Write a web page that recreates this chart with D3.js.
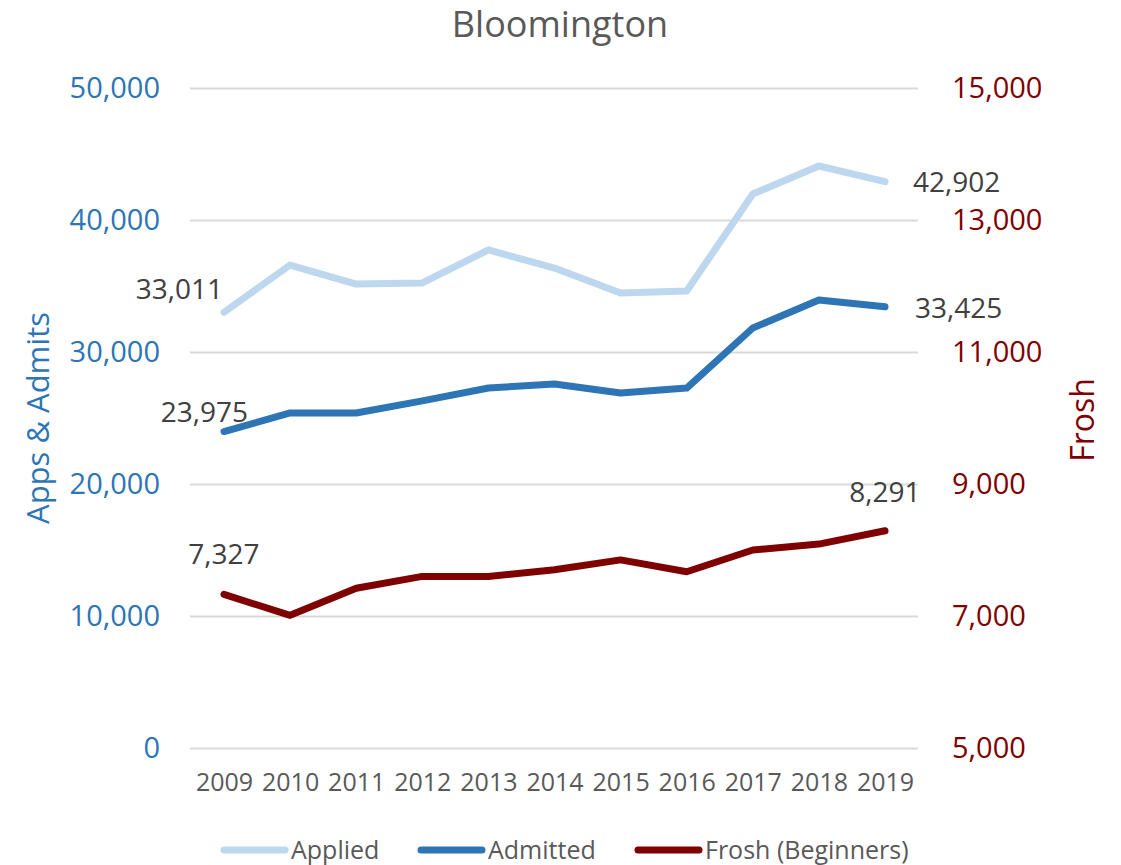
<!DOCTYPE html>
<html>
<head>
<meta charset="utf-8">
<script src="https://cdn.jsdelivr.net/npm/d3@7"></script>
<style>
  body { margin: 0; background: #fff; }
  svg { display: block; font-family: "Open Sans", "Noto Sans", sans-serif; }
</style>
</head>
<body>
<div id="chart"></div>
<script>
// values
const years = ["2009", "2010", "2011", "2012", "2013", "2014", "2015", "2016", "2017", "2018", "2019"];
const applied = [33011, 36590, 35150, 35230, 37730, 36360, 34470, 34620, 41970, 44090, 42902];
const admitted = [23975, 25380, 25380, 26300, 27270, 27580, 26890, 27270, 31820, 33940, 33425];
const frosh = [7327, 7010, 7420, 7600, 7600, 7700, 7850, 7670, 8000, 8090, 8291];
const leftTicks = [0, 10000, 20000, 30000, 40000, 50000];
const rightTicks = [5000, 7000, 9000, 11000, 13000, 15000];

const width = 1121, height = 865;
const blue = "#2E75B6", lightBlue = "#BDD7EE", darkRed = "#7F0000";
const fmt = d3.format(",");

const svg = d3.select("#chart")
    .append("svg")
    .attr("width", width)
    .attr("height", height);

const x = d3.scalePoint()
    .domain(years)
    .range([224, 885]);

const yLeft = d3.scaleLinear()
    .domain([0, 50000])
    .range([748, 88]);

const yRight = d3.scaleLinear()
    .domain([5000, 15000])
    .range([748, 88]);

// title
svg.append("text")
    .attr("x", 560)
    .attr("y", 37)
    .attr("text-anchor", "middle")
    .attr("font-size", 36)
    .attr("fill", "#595959")
    .text("Bloomington");

// left axis + gridlines
const leftAxis = svg.append("g")
    .attr("transform", "translate(190,0)")
    .call(d3.axisLeft(yLeft).tickValues(leftTicks).tickFormat(fmt).tickSize(-728).tickPadding(30));
leftAxis.select(".domain").remove();
leftAxis.selectAll(".tick line").attr("stroke", "#d9d9d9").attr("stroke-width", 2);
leftAxis.selectAll(".tick text")
    .attr("font-size", 29)
    .attr("font-family", "Open Sans")
    .attr("fill", blue);

// right axis, labels only
const rightAxis = svg.append("g")
    .attr("transform", "translate(918,0)")
    .call(d3.axisRight(yRight).tickValues(rightTicks).tickFormat(fmt).tickSize(0).tickPadding(34));
rightAxis.select(".domain").remove();
rightAxis.selectAll(".tick text")
    .attr("font-size", 29)
    .attr("font-family", "Open Sans")
    .attr("fill", darkRed);

// x axis
const xAxis = svg.append("g")
    .attr("transform", "translate(0,748)")
    .call(d3.axisBottom(x).tickSize(0).tickPadding(25));
xAxis.select(".domain").remove();
xAxis.selectAll(".tick text")
    .attr("font-size", 25)
    .attr("font-family", "Open Sans")
    .attr("fill", "#595959");

// axis titles
svg.append("text")
    .attr("transform", "translate(49,418) rotate(-90)")
    .attr("text-anchor", "middle")
    .attr("font-size", 31)
    .attr("fill", blue)
    .text("Apps & Admits");

svg.append("text")
    .attr("transform", "translate(1094,420) rotate(-90)")
    .attr("text-anchor", "middle")
    .attr("font-size", 32)
    .attr("fill", darkRed)
    .text("Frosh");

// lines
const series = [
    { name: "Applied", values: applied, scale: yLeft, color: lightBlue },
    { name: "Admitted", values: admitted, scale: yLeft, color: blue },
    { name: "Frosh (Beginners)", values: frosh, scale: yRight, color: darkRed }
];

series.forEach(s => {
    const line = d3.line()
        .x((d, i) => x(years[i]))
        .y(d => s.scale(d));
    svg.append("path")
        .datum(s.values)
        .attr("fill", "none")
        .attr("stroke", s.color)
        .attr("stroke-width", 7)
        .attr("stroke-linejoin", "round")
        .attr("stroke-linecap", "round")
        .attr("d", line);
});

// data labels at first and last points
const labels = [
    { s: 0, i: 0, dx: -1, dy: -13, anchor: "end" },
    { s: 0, i: 10, dx: 28, dy: 10, anchor: "start" },
    { s: 1, i: 0, dx: 24, dy: -10, anchor: "end" },
    { s: 1, i: 10, dx: 30, dy: 11, anchor: "start" },
    { s: 2, i: 0, dx: 0, dy: -30, anchor: "middle" },
    { s: 2, i: 10, dx: 0, dy: -29, anchor: "middle" }
];

svg.selectAll(".data-label")
    .data(labels)
    .join("text")
    .attr("class", "data-label")
    .attr("x", d => x(years[d.i]) + d.dx)
    .attr("y", d => series[d.s].scale(series[d.s].values[d.i]) + d.dy)
    .attr("text-anchor", d => d.anchor)
    .attr("font-size", 28)
    .attr("fill", "#404040")
    .text(d => fmt(series[d.s].values[d.i]));

// legend
const legendX = [221, 418, 635];
const legend = svg.selectAll(".legend")
    .data(series)
    .join("g")
    .attr("class", "legend")
    .attr("transform", (d, i) => `translate(${legendX[i]},850)`);

legend.append("line")
    .attr("x1", 3)
    .attr("x2", 64)
    .attr("stroke", d => d.color)
    .attr("stroke-width", 7)
    .attr("stroke-linecap", "round");

legend.append("text")
    .attr("x", 70)
    .attr("y", 9)
    .attr("font-size", 25)
    .attr("fill", "#595959")
    .text(d => d.name);
</script>
</body>
</html>
